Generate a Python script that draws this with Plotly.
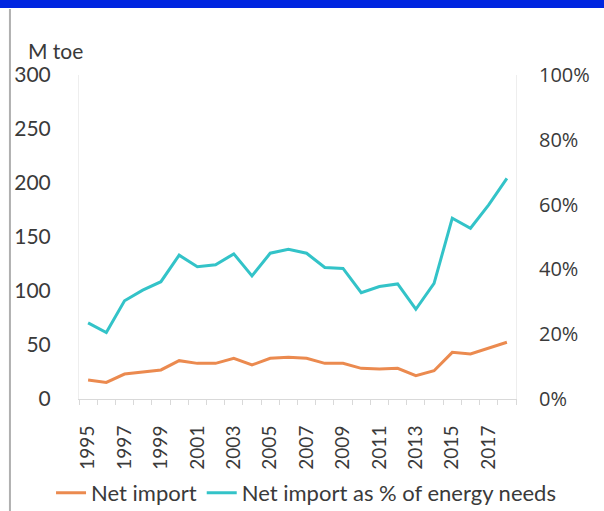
import plotly.graph_objects as go

years = list(range(1995, 2019))
net_import = [17.6, 15.4, 23.1, 25.3, 26.9, 35.5, 33.0, 33.0, 37.7, 31.5, 37.7, 38.6,
              37.7, 33.0, 33.0, 28.4, 27.8, 28.4, 21.6, 26.2, 43.2, 41.7, 46.9, 52.5]
share_pct = [23.5, 20.5, 30.3, 33.6, 36.2, 44.4, 40.8, 41.4, 44.8, 38.0, 45.0, 46.2,
             45.0, 40.6, 40.3, 32.8, 34.7, 35.5, 27.7, 35.7, 55.8, 52.7, 59.9, 68.1]
share = [v / 100 for v in share_pct]
x_ticks = list(range(1995, 2018, 2))
left_ticks = [0, 50, 100, 150, 200, 250, 300]
right_ticks = [0, 0.2, 0.4, 0.6, 0.8, 1.0]

FONT = "Lato"
TXT = "#3a3a3a"
AX = "#d9d9d9"
FS = 21

fig = go.Figure()
fig.add_trace(go.Scatter(x=years, y=net_import, name="Net import", mode="lines",
                         line=dict(color="#EB8A4F", width=3), yaxis="y"))
fig.add_trace(go.Scatter(x=years, y=share, name="Net import as % of energy needs", mode="lines",
                         line=dict(color="#33C3C8", width=3), yaxis="y2"))

fig.update_layout(
    width=604, height=511,
    margin=dict(l=79, r=88, t=75, b=112, autoexpand=False),
    paper_bgcolor="white", plot_bgcolor="white",
    font=dict(family=FONT, size=FS, color=TXT),
    showlegend=True,
    legend=dict(orientation="h", x=-0.064, xanchor="left", y=-0.29, yanchor="middle",
                font=dict(family=FONT, size=22, color=TXT),
                tracegroupgap=0, bgcolor="rgba(0,0,0,0)"),
    xaxis=dict(range=[1994.5, 2018.5], tickmode="array", tickvals=x_ticks,
               ticktext=[str(y) for y in x_ticks], tickangle=-90,
               showgrid=False, zeroline=False, showline=True, linecolor=AX, linewidth=1,
               ticks="", ticklabelstandoff=18, tickfont=dict(family=FONT, size=19, color=TXT),
               minor=dict(tickmode="linear", tick0=1994.5, dtick=1, ticks="outside",
                          ticklen=5, tickcolor=AX, showgrid=False)),
    yaxis=dict(range=[0, 300], tickvals=left_ticks, showgrid=False, zeroline=False,
               showline=True, linecolor="#eeeeee", linewidth=1, ticks="",
               tickfont=dict(family=FONT, size=FS, color=TXT), ticklabelstandoff=23),
    yaxis2=dict(range=[0, 1], tickvals=right_ticks, tickformat=".0%", overlaying="y",
                side="right", showgrid=False, zeroline=False, showline=True,
                linecolor="#eeeeee", linewidth=1, ticks="",
                tickfont=dict(family="Open Sans", size=20, color=TXT), ticklabelstandoff=18),
    shapes=[
        dict(type="rect", xref="paper", yref="paper", x0=-0.2, x1=1.25,
             y0=1.2068, y1=1.24, fillcolor="#0026E0", line=dict(width=0), layer="above"),
        dict(type="line", xref="paper", yref="paper", x0=-0.158, x1=-0.158,
             y0=1.2037, y1=-0.35, line=dict(color="#b0b0b0", width=2)),
    ],
    annotations=[
        dict(text="M toe", xref="paper", yref="paper", x=-0.122, y=1.077,
             xanchor="left", yanchor="middle", showarrow=False,
             font=dict(family=FONT, size=FS, color=TXT)),
    ],
)

fig.write_html("out.html", config={"displayModeBar": False},
               post_script="document.body.style.margin='0';")
